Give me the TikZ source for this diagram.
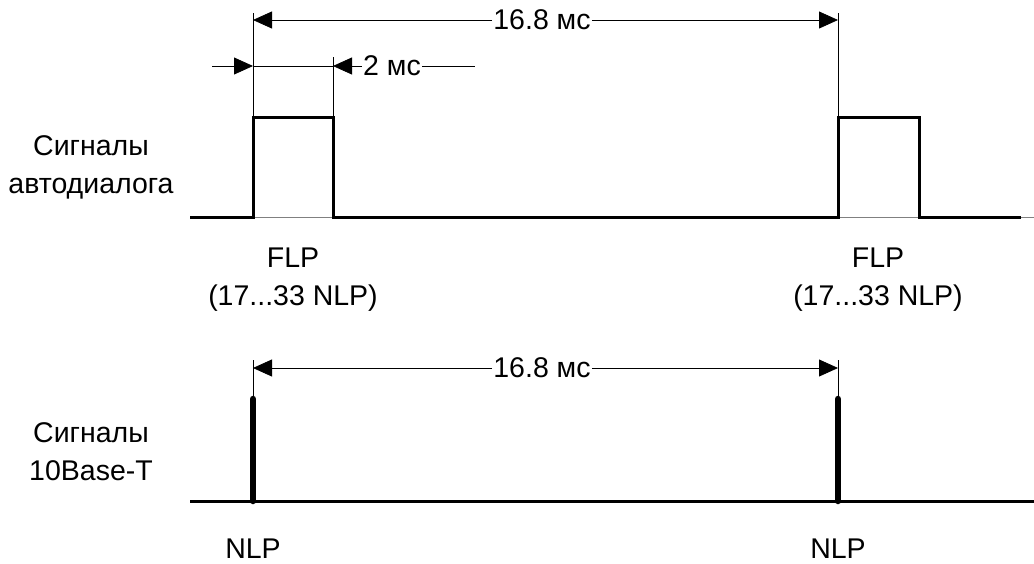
\documentclass[tikz,border=0pt]{standalone}
\usepackage{fontspec}
\setmainfont{Liberation Sans}
\usetikzlibrary{arrows.meta}
\begin{document}
\begin{tikzpicture}[x=1pt,y=-1pt,
  sig/.style={line width=3pt, line join=miter},
  pulse/.style={line width=6.5pt, line cap=round},
  dimline/.style={line width=0.8pt},
  dimarrow/.style={line width=0.8pt, -{Triangle[length=19pt,width=17pt]}},
  lbl/.style={font=\fontsize{28.5}{38}\selectfont, align=center, inner sep=0pt},
  dimlbl/.style={font=\fontsize{28.5}{30}\selectfont, inner sep=1pt, fill=white}]
\useasboundingbox (0,0) rectangle (1034,563);

% ---- top signal (autonegotiation) ----
\coordinate (a0) at (190,217);
\coordinate (a1) at (253,217);
\coordinate (a1t) at (253,117);
\coordinate (a2t) at (333,117);
\coordinate (a2) at (333,217);
\coordinate (b1) at (838,217);
\coordinate (b1t) at (838,117);
\coordinate (b2t) at (919,117);
\coordinate (b2) at (919,217);
\coordinate (aend) at (1021,217);
\coordinate (axisend) at (1034,217);
\draw[line width=0.6pt, gray] (a0) -- (axisend);
\draw[sig] (a0) -- (a1) -- (a1t) -- (a2t) -- (a2) -- (b1) -- (b1t) -- (b2t) -- (b2) -- (aend);

% extension lines
\coordinate (e1) at (253,13);
\coordinate (e2) at (838,13);
\coordinate (e3) at (333,57);
\draw[dimline] (a1t) -- (e1);
\draw[dimline] (b1t) -- (e2);
\draw[dimline] (a2t) -- (e3);

% 16.8 ms (top)
\coordinate (f1) at (253,20);
\coordinate (f2) at (838,20);
\node[dimlbl] (t1) at (542,20) {16.8 мс};
\draw[dimarrow] (t1.west) -- (f1);
\draw[dimarrow] (t1.east) -- (f2);

% 2 ms
\coordinate (d0) at (212,66);
\coordinate (d1) at (253,66);
\coordinate (d2) at (333,66);
\coordinate (d3) at (475,66);
\node[dimlbl] (t2) at (392,66) {2 мс};
\draw[dimarrow] (d0) -- (d1);
\draw[dimline] (d1) -- (d2);
\draw[dimarrow] (t2.west) -- (d2);
\draw[dimline] (t2.east) -- (d3);

% labels top
\node[lbl] (lA) at (91,167) {Сигналы\\автодиалога};
\node[lbl] (flp1) at (293,280) {FLP\\(17...33 NLP)};
\node[lbl] (flp2) at (878,280) {FLP\\(17...33 NLP)};

% ---- bottom signal (10Base-T) ----
\coordinate (c0) at (190,501);
\coordinate (cend) at (1034,501);
\coordinate (p1b) at (253,501);
\coordinate (p1t) at (253,399);
\coordinate (p2b) at (838,501);
\coordinate (p2t) at (838,399);
\draw[sig] (c0) -- (cend);
\draw[pulse] (p1b) -- (p1t);
\draw[pulse] (p2b) -- (p2t);

\coordinate (g1) at (253,360);
\coordinate (g2) at (838,360);
\draw[dimline] (p1t) -- (g1);
\draw[dimline] (p2t) -- (g2);

\coordinate (h1) at (253,368);
\coordinate (h2) at (838,368);
\node[dimlbl] (t3) at (542,368) {16.8 мс};
\draw[dimarrow] (t3.west) -- (h1);
\draw[dimarrow] (t3.east) -- (h2);

\node[lbl] (lB) at (91,452) {Сигналы\\10Base-T};
\node[lbl] (nlp1) at (253,549) {NLP};
\node[lbl] (nlp2) at (838,549) {NLP};
\end{tikzpicture}
\end{document}
